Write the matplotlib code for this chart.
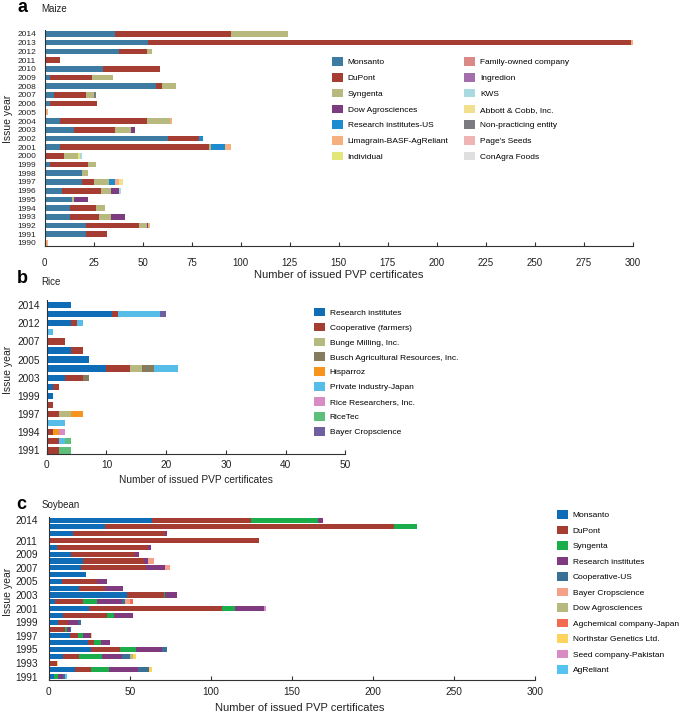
import numpy as np
import matplotlib
matplotlib.use("Agg")
import matplotlib.pyplot as plt
from matplotlib.patches import Patch

plt.rcParams['font.family'] = ['Liberation Sans', 'DejaVu Sans']

# =============================================================================
# Datos - Maize (1990..2014)
# =============================================================================
maizeYears = list(range(1990, 2015))
maizeCompanies = ['Monsanto', 'DuPont', 'Syngenta', 'Dow Agrosciences', 'Research institutes-US',
                  'Limagrain-BASF-AgReliant', 'Individual', 'Family-owned company', 'Ingredion',
                  'KWS', 'Abbott & Cobb, Inc.', 'Non-practicing entity', "Page's Seeds", 'ConAgra Foods']
maizeColors = ['#3d7ba3', '#a63d33', '#b7b97e', '#7d3b80', '#1c8bd0', '#f5b07d', '#e3e77a',
               '#d98986', '#a26eac', '#a8dadf', '#f3e08e', '#7a7a80', '#efb4b4', '#dfdfe0']
#                1990 ........................................................ 2014
maizeMonsanto = [1, 21, 21, 13, 13, 14, 9, 19, 19, 3, 0, 8, 63, 15, 8, 0, 3, 5, 57, 3, 30, 0, 38, 53, 36]
maizeDupont   = [0, 11, 27, 15, 13, 0, 20, 6, 0, 19, 10, 76, 16, 21, 44, 1, 24, 16, 3, 21, 29, 8, 14, 246, 59]
maizeSyngenta = [0, 0, 4, 6, 5, 1, 5, 8, 3, 4, 7, 1, 0, 8, 12, 0, 0, 4, 7, 11, 0, 0, 3, 0, 29]
maizeDow      = [0, 0, 1, 7, 0, 7, 4, 0, 0, 0, 0, 0, 0, 2, 0, 0, 0, 0, 0, 0, 0, 0, 0, 0, 0]
maizeResearch = [0, 0, 0, 0, 0, 0, 0, 3, 0, 0, 0, 7, 2, 0, 0, 0, 0, 0, 0, 0, 0, 0, 0, 0, 0]
maizeLimagrain = [1, 0, 1, 0, 0, 0, 0, 2, 0, 0, 0, 3, 0, 0, 1, 1, 0, 0, 0, 0, 0, 0, 0, 1, 0]
maizeIndividual = [0, 0, 0, 0, 0, 0, 0, 0, 0, 0, 1, 0, 0, 0, 0, 0, 0, 0, 0, 0, 0, 0, 0, 0, 0]
maizeFamily   = [0] * 25
maizeIngredion = [0] * 25
maizeKws      = [0, 0, 0, 0, 0, 0, 1, 0, 0, 0, 1, 0, 0, 0, 0, 0, 0, 0, 0, 0, 0, 0, 0, 0, 0]
maizeAbbott   = [0, 0, 0, 0, 0, 0, 0, 2, 0, 0, 0, 0, 0, 0, 0, 0, 0, 0, 0, 0, 0, 0, 0, 0, 0]
maizeNonPract = [0, 0, 0, 0, 0, 0, 0, 0, 0, 0, 0, 0, 0, 0, 0, 0, 0, 1, 0, 0, 0, 0, 0, 0, 0]
maizePages    = [0] * 25
maizeConagra  = [0] * 25
maizeSeries = [maizeMonsanto, maizeDupont, maizeSyngenta, maizeDow, maizeResearch, maizeLimagrain,
               maizeIndividual, maizeFamily, maizeIngredion, maizeKws, maizeAbbott, maizeNonPract,
               maizePages, maizeConagra]

# =============================================================================
# Datos - Rice (solo años con registros)
# =============================================================================
riceYears = [1991, 1992, 1994, 1995, 1997, 1998, 1999, 2001, 2003, 2004, 2005, 2006, 2007, 2010, 2012, 2013, 2014]
riceCompanies = ['Research institutes', 'Cooperative (farmers)', 'Bunge Milling, Inc.',
                 'Busch Agricultural Resources, Inc.', 'Hisparroz', 'Private industry-Japan',
                 'Rice Researchers, Inc.', 'RiceTec', 'Bayer Cropscience']
riceColors = ['#0f6db8', '#a63d33', '#b7b97e', '#877b5e', '#f7941d', '#56bde8', '#d98bc4', '#5dbf7a', '#6f5fa0']
riceResearch = [0, 0, 0, 0, 0, 0, 1, 1, 3, 10, 7, 4, 0, 0, 4, 11, 4]
riceCoop     = [2, 2, 1, 0, 2, 1, 0, 1, 3, 4, 0, 2, 3, 0, 1, 1, 0]
riceBunge    = [0, 0, 0, 0, 2, 0, 0, 0, 0, 2, 0, 0, 0, 0, 0, 0, 0]
riceBusch    = [0, 0, 0, 0, 0, 0, 0, 0, 1, 2, 0, 0, 0, 0, 0, 0, 0]
riceHisparroz = [0, 0, 1, 0, 2, 0, 0, 0, 0, 0, 0, 0, 0, 0, 0, 0, 0]
riceJapan    = [0, 1, 0, 3, 0, 0, 0, 0, 0, 4, 0, 0, 0, 1, 1, 7, 0]
riceRR       = [0, 0, 1, 0, 0, 0, 0, 0, 0, 0, 0, 0, 0, 0, 0, 0, 0]
riceTec      = [2, 1, 0, 0, 0, 0, 0, 0, 0, 0, 0, 0, 0, 0, 0, 0, 0]
riceBayer    = [0, 0, 0, 0, 0, 0, 0, 0, 0, 0, 0, 0, 0, 0, 0, 1, 0]
riceSeries = [riceResearch, riceCoop, riceBunge, riceBusch, riceHisparroz, riceJapan, riceRR, riceTec, riceBayer]

# =============================================================================
# Datos - Soybean (1991..2014)
# =============================================================================
soyYears = list(range(1991, 2015))
soyCompanies = ['Monsanto', 'DuPont', 'Syngenta', 'Research institutes', 'Cooperative-US',
                'Bayer Cropscience', 'Dow Agrosciences', 'Agchemical company-Japan',
                'Northstar Genetics Ltd.', 'Seed company-Pakistan', 'AgReliant']
soyColors = ['#0f6db8', '#a63d33', '#1aad4a', '#7f3a80', '#3a6f96', '#f4a08a', '#b7b97e',
             '#f26b50', '#fdd35e', '#d98bc4', '#55c3f0']
#              1991 ................................................... 2014
soyMonsanto = [3, 16, 0, 9, 26, 24, 13, 1, 6, 9, 25, 4, 48, 19, 8, 23, 20, 21, 14, 5, 1, 15, 35, 64]
soyDupont   = [0, 10, 5, 10, 18, 4, 5, 9, 6, 27, 82, 17, 23, 16, 22, 0, 40, 38, 39, 56, 129, 57, 178, 61]
soySyngenta = [3, 11, 0, 14, 10, 4, 3, 1, 0, 4, 8, 9, 1, 0, 0, 0, 0, 0, 0, 0, 0, 0, 14, 41]
soyResearch = [3, 18, 0, 12, 16, 6, 5, 2, 6, 12, 18, 15, 7, 11, 6, 0, 12, 2, 3, 2, 0, 1, 0, 3]
soyCoop     = [1, 7, 0, 5, 3, 0, 0, 1, 2, 0, 0, 2, 0, 0, 0, 0, 0, 0, 0, 0, 0, 0, 0, 0]
soyBayer    = [0, 0, 0, 0, 0, 0, 0, 0, 0, 0, 0, 3, 0, 0, 0, 0, 3, 4, 0, 0, 0, 0, 0, 0]
soyDow      = [0, 0, 0, 2, 0, 0, 0, 0, 0, 0, 0, 0, 0, 0, 0, 0, 0, 0, 0, 0, 0, 0, 0, 0]
soyAgchem   = [0, 0, 0, 0, 0, 0, 0, 0, 0, 0, 0, 2, 0, 0, 0, 0, 0, 0, 0, 0, 0, 0, 0, 0]
soyNorthstar = [0, 2, 1, 2, 0, 0, 1, 0, 0, 0, 0, 0, 0, 0, 0, 0, 0, 0, 0, 0, 0, 0, 0, 0]
soyPakistan = [0, 0, 0, 0, 0, 0, 0, 0, 0, 0, 1, 0, 0, 0, 0, 0, 0, 0, 0, 0, 0, 0, 0, 0]
soyAgreliant = [1, 0, 0, 0, 0, 0, 0, 0, 0, 0, 0, 0, 0, 0, 0, 0, 0, 0, 0, 0, 0, 0, 0, 0]
soySeries = [soyMonsanto, soyDupont, soySyngenta, soyResearch, soyCoop, soyBayer, soyDow,
             soyAgchem, soyNorthstar, soyPakistan, soyAgreliant]

# =============================================================================
# Figura
# =============================================================================
W, H = 685, 714
fig = plt.figure(figsize=(W / 100, H / 100), dpi=100)
colorTexto = '#222222'


def ejes(x0, yTop, yBottom, ancho):
    # Crea ejes a partir de coordenadas en pixeles de la imagen
    return fig.add_axes([x0 / W, 1 - yBottom / H, ancho / W, (yBottom - yTop) / H])


def barrasApiladas(ax, series, colores, alto):
    pos = np.arange(len(series[0]))
    izquierda = np.zeros(len(pos))
    for valores, color in zip(series, colores):
        valores = np.array(valores, dtype=float)
        ax.barh(pos, valores, left=izquierda, height=alto, color=color, linewidth=0)
        izquierda += valores
    return pos


def estiloEjes(ax, tamTick, tamYear, padX, padY):
    for lado in ['top', 'right']:
        ax.spines[lado].set_visible(False)
    for lado in ['left', 'bottom']:
        ax.spines[lado].set_linewidth(0.8)
        ax.spines[lado].set_color('#333333')
    ax.tick_params(axis='x', direction='in', length=3, width=0.8, color='#333333',
                   labelsize=tamTick, pad=padX, labelcolor=colorTexto)
    ax.tick_params(axis='y', length=0, labelsize=tamYear, pad=padY, labelcolor=colorTexto)


# --- Maize ---
axA = ejes(44.5, 29.6, 245.8, 588.5)
pos = barrasApiladas(axA, maizeSeries, maizeColors, 0.65)
axA.set_yticks(pos)
axA.set_yticklabels([str(a) for a in maizeYears])
axA.set_xlim(0, 300)
axA.set_xticks(np.arange(0, 301, 25))
axA.set_ylim(-0.33, 24.5)
estiloEjes(axA, 7, 6, 9, 6)
fig.text(339 / W, 1 - 275 / H, 'Number of issued PVP certificates', ha='center', va='center',
         fontsize=8, color=colorTexto)
fig.text(8 / W, 1 - 119 / H, 'Issue year', rotation=90, ha='center', va='center',
         fontsize=7.5, color=colorTexto)
fig.text(17 / W, 1 - 12.5 / H, 'a', fontsize=13, fontweight='bold', va='baseline')
fig.text(41.7 / W, 1 - 12.5 / H, 'Maize', fontsize=7, va='baseline', color=colorTexto)

manijasA = [Patch(color=c, linewidth=0) for c in maizeColors]
legA = fig.legend(manijasA, maizeCompanies, ncol=2, loc='upper left',
                  bbox_to_anchor=(331.7 / W, 1 - 57.3 / H), frameon=False, fontsize=6,
                  handlelength=1.3, handleheight=1.2, handletextpad=0.6, labelspacing=0.8,
                  columnspacing=1.9, borderpad=0, borderaxespad=0)

# --- Rice ---
axB = ejes(46.7, 300.5, 453.5, 298.6)
pos = barrasApiladas(axB, riceSeries, riceColors, 0.7)
axB.set_yticks(pos[::2])
axB.set_yticklabels([str(a) for a in riceYears[::2]])
axB.set_xlim(0, 50)
axB.set_xticks(np.arange(0, 51, 10))
axB.set_ylim(-0.35, 16.5)
estiloEjes(axB, 7.3, 7.3, 5, 5)
fig.text(196 / W, 1 - 480 / H, 'Number of issued PVP certificates', ha='center', va='center',
         fontsize=7.3, color=colorTexto)
fig.text(8 / W, 1 - 370 / H, 'Issue year', rotation=90, ha='center', va='center',
         fontsize=7.5, color=colorTexto)
fig.text(16.7 / W, 1 - 283 / H, 'b', fontsize=13, fontweight='bold', va='baseline')
fig.text(41.7 / W, 1 - 285 / H, 'Rice', fontsize=7, va='baseline', color=colorTexto)

manijasB = [Patch(color=c, linewidth=0) for c in riceColors]
fig.legend(manijasB, riceCompanies, ncol=1, loc='upper left',
           bbox_to_anchor=(314 / W, 1 - 307.7 / H), frameon=False, fontsize=6,
           handlelength=1.3, handleheight=1.2, handletextpad=0.6, labelspacing=0.7,
           borderpad=0, borderaxespad=0)

# --- Soybean ---
axC = ejes(48.7, 516.7, 680, 486.3)
pos = barrasApiladas(axC, soySeries, soyColors, 0.75)
etiquetasSoy = ['2014', '2011', '2009', '2007', '2005', '2003', '2001', '1999', '1997', '1995', '1993', '1991']
axC.set_yticks([soyYears.index(int(e)) for e in etiquetasSoy])
axC.set_yticklabels(etiquetasSoy)
axC.set_xlim(0, 300)
axC.set_xticks(np.arange(0, 301, 50))
axC.set_ylim(-0.48, 23.5)
estiloEjes(axC, 7.3, 7.3, 5, 8)
fig.text(300 / W, 1 - 708 / H, 'Number of issued PVP certificates', ha='center', va='center',
         fontsize=8, color=colorTexto)
fig.text(8 / W, 1 - 592 / H, 'Issue year', rotation=90, ha='center', va='center',
         fontsize=7.5, color=colorTexto)
fig.text(16.7 / W, 1 - 509.3 / H, 'c', fontsize=13, fontweight='bold', va='baseline')
fig.text(41.7 / W, 1 - 508 / H, 'Soybean', fontsize=7, va='baseline', color=colorTexto)

manijasC = [Patch(color=c, linewidth=0) for c in soyColors]
fig.legend(manijasC, soyCompanies, ncol=1, loc='upper left',
           bbox_to_anchor=(556.7 / W, 1 - 510 / H), frameon=False, fontsize=6,
           handlelength=1.4, handleheight=1.2, handletextpad=0.5, labelspacing=0.77,
           borderpad=0, borderaxespad=0)

fig.savefig('out.png', dpi=100)
